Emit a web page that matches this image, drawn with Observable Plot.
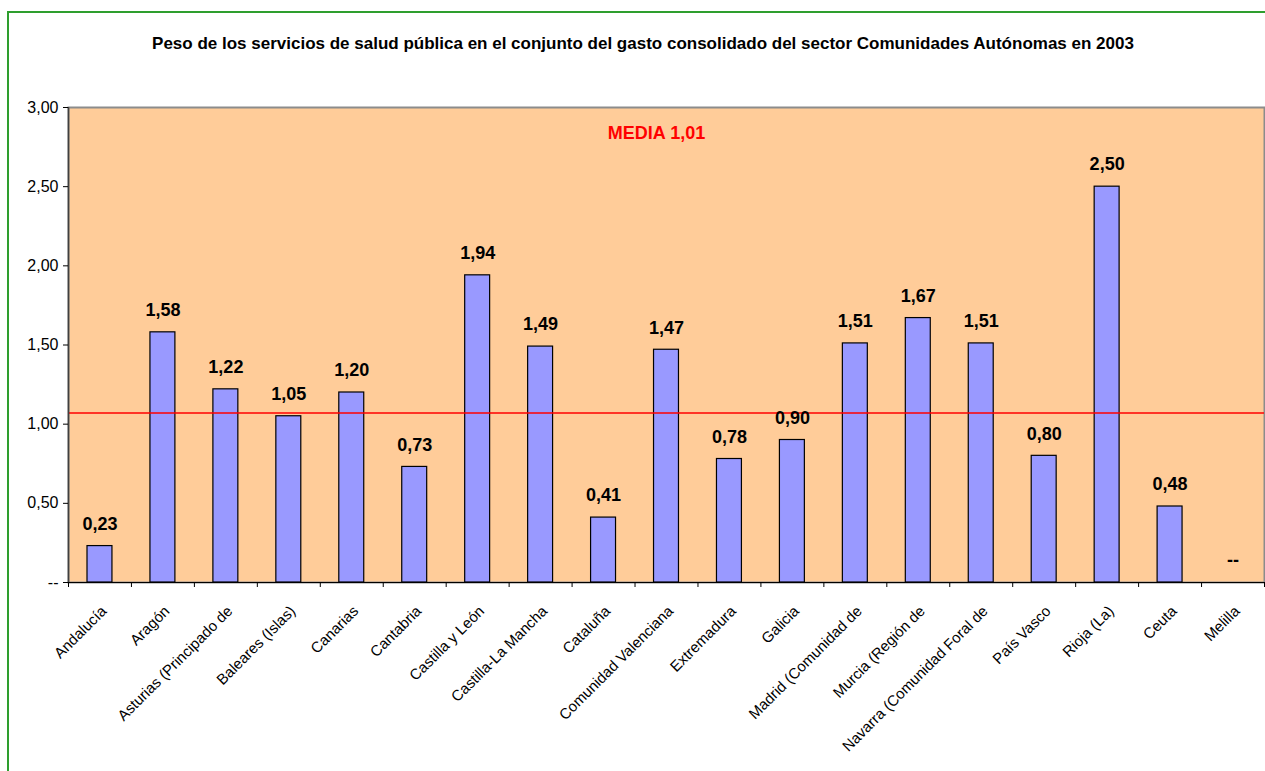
<!DOCTYPE html>
<html>
<head>
<meta charset="utf-8">
<script src="https://cdn.jsdelivr.net/npm/d3@7"></script>
<script src="https://cdn.jsdelivr.net/npm/@observablehq/plot@0.6"></script>
<style>
  html, body { margin: 0; padding: 0; background: #ffffff; }
  #wrap { position: relative; width: 1265px; height: 771px; overflow: hidden; font-family: "Liberation Sans", Arial, sans-serif; }
  #frame { position: absolute; left: 7px; top: 11px; width: 1400px; height: 900px; border: 2px solid #2e9e2e; box-sizing: border-box; pointer-events: none; z-index: 2; }
  #title { position: absolute; left: 21px; top: 34px; width: 1244px; text-align: center; font-weight: bold; font-size: 17px; line-height: 20px; color: #000; }
  #chart { position: absolute; left: 0; top: 60px; }
</style>
</head>
<body>
<div id="wrap">
  <div id="title"></div>
  <div id="chart"></div>
  <div id="frame"></div>
</div>
<script>
const title = "Peso de los servicios de salud pública en el conjunto del gasto consolidado del sector Comunidades Autónomas en 2003";
const regions = ["Andalucía","Aragón","Asturias (Principado de)","Baleares (Islas)","Canarias","Cantabria","Castilla y León","Castilla-La Mancha","Cataluña","Comunidad Valenciana","Extremadura","Galicia","Madrid (Comunidad de)","Murcia (Región de)","Navarra (Comunidad Foral de)","País Vasco","Rioja (La)","Ceuta","Melilla"];
const regionLabels = ["Andalucía","Aragón","Asturias (Principado de","Baleares (Islas)","Canarias","Cantabria","Castilla y León","Castilla-La Mancha","Cataluña","Comunidad Valenciana","Extremadura","Galicia","Madrid (Comunidad de","Murcia (Región de","Navarra (Comunidad Foral de","País Vasco","Rioja (La)","Ceuta","Melilla"];
const values = [0.23,1.58,1.22,1.05,1.20,0.73,1.94,1.49,0.41,1.47,0.78,0.90,1.51,1.67,1.51,0.80,2.50,0.48,null];
const yTicks = [0,0.5,1,1.5,2,2.5,3];
const mediaValue = 1.07;
const mediaLabel = "MEDIA 1,01";

document.getElementById("title").textContent = title;

const data = regions.map((r, i) => ({region: r, label: regionLabels[i], value: values[i]}));
const fmt = v => v.toFixed(2).replace(".", ",");

const width = 1265, height = 711;
const marginLeft = 68, marginRight = 1, marginTop = 47, marginBottom = 189;
const bw = (width - marginLeft - marginRight) / regions.length;
const font = "'Liberation Sans', Arial, sans-serif";

const chart = Plot.plot({
  width, height, marginLeft, marginRight, marginTop, marginBottom,
  style: {fontFamily: font, background: "transparent", overflow: "visible", color: "#000"},
  x: {type: "band", domain: regions, padding: 0, round: false, axis: null, label: null},
  y: {domain: [0, 3], axis: null, label: null},
  marks: [
    Plot.frame({fill: "#FFCC99", stroke: "#8c8c8c", strokeWidth: 2}),
    Plot.barY(data, {x: "region", y: "value", fill: "#9999FF", stroke: "#000", strokeWidth: 1.2, insetLeft: 19, insetRight: 19}),
    Plot.ruleY([mediaValue], {stroke: "#FF0000", strokeWidth: 1.5}),
    Plot.ruleY([0], {stroke: "#000", strokeWidth: 1.2}),
    Plot.ruleX([regions[0]], {dx: -bw / 2, stroke: "#404040", strokeWidth: 1.5}),
    Plot.axisY({ticks: yTicks, tickSize: 5, tickPadding: 5, fontSize: 16, label: null, tickFormat: d => d === 0 ? "--" : fmt(d)}),
    Plot.axisX({tickSize: 5, label: null, tickFormat: () => "", dx: -bw / 2}),
    Plot.axisX({ticks: [regions[regions.length - 1]], label: null, tickSize: 5, tickFormat: () => "", dx: bw / 2}),
    Plot.text(data, {x: "region", text: "label", frameAnchor: "bottom", rotate: -45, textAnchor: "end", lineAnchor: "top", dy: 22, fontSize: 15}),
    Plot.text(data, {x: "region", y: d => d.value ?? 0, text: d => d.value == null ? "--" : fmt(d.value), dy: -22, lineAnchor: "middle", fontWeight: "bold", fontSize: 18}),
    Plot.text([mediaLabel], {text: d => d, frameAnchor: "top", lineAnchor: "middle", dx: -10, dy: 26, fill: "#FF0000", fontWeight: "bold", fontSize: 18})
  ]
});
document.getElementById("chart").appendChild(chart);
</script>
</body>
</html>
